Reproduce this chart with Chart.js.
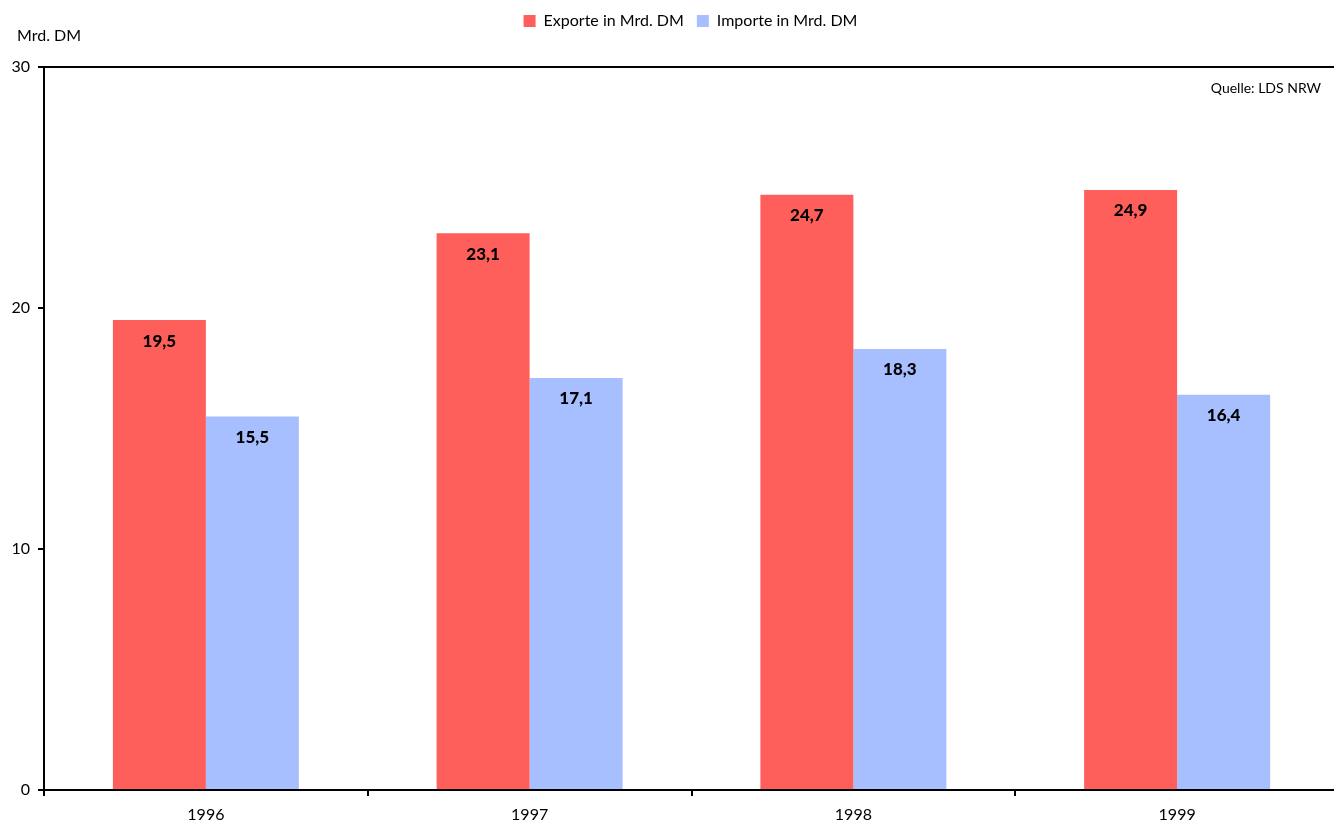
<!DOCTYPE html>
<html lang="de">
<head>
<meta charset="utf-8">
<title>Exporte und Importe in Mrd. DM</title>
<script src="https://cdn.jsdelivr.net/npm/chart.js@4/dist/chart.umd.min.js"></script>
<style>
  html, body { margin: 0; padding: 0; background: #fff; overflow: hidden; }
  #wrap { width: 1340px; height: 824px; }
</style>
</head>
<body>
<div id="wrap"><canvas id="chart" width="1340" height="824"></canvas></div>
<script>
// Außenhandel NRW 1996–1999
const years = ['1996', '1997', '1998', '1999'];
const exporte = [19.5, 23.1, 24.7, 24.9];
const importe = [15.5, 17.1, 18.3, 16.4];
const yTicks = [0, 10, 20, 30];
const seriesNames = ['Exporte in Mrd. DM', 'Importe in Mrd. DM'];
const unitLabel = 'Mrd. DM';
const sourceLabel = 'Quelle: LDS NRW';

const FONT = 'Lato, "Open Sans", sans-serif';
const RED = '#FF5F5A';
const BLUE = '#A7BEFF';

const fmt = v => v.toFixed(1).replace('.', ',');

// value labels inside the bars, plus unit and source notes
const annotations = {
  id: 'annotations',
  afterDatasetsDraw(chart) {
    const ctx = chart.ctx;
    ctx.save();
    ctx.fillStyle = '#000';
    ctx.textAlign = 'center';
    ctx.textBaseline = 'middle';
    ctx.font = '900 17px ' + FONT;
    chart.data.datasets.forEach((ds, di) => {
      const meta = chart.getDatasetMeta(di);
      meta.data.forEach((bar, i) => {
        ctx.fillText(fmt(ds.data[i]), bar.x, bar.y + 21);
      });
    });
    ctx.font = '16px ' + FONT;
    ctx.textAlign = 'left';
    ctx.fillText(unitLabel, 17, 36);
    ctx.font = '14px ' + FONT;
    ctx.textAlign = 'right';
    ctx.fillText(sourceLabel, 1321, 88);
    ctx.restore();
  }
};

// fixed legend band height above the plot, centred over the plot area
const legendBand = {
  id: 'legendBand',
  afterInit(chart) {
    const lg = chart.legend;
    if (!lg) return;
    const fit = lg.fit.bind(lg);
    lg.fit = function () { fit(); this.height = 67; };
  },
  afterLayout(chart) {
    const lg = chart.legend;
    if (!lg) return;
    const shift = 21;
    lg.left += shift;
    lg.right += shift;
  }
};

new Chart(document.getElementById('chart'), {
  type: 'bar',
  data: {
    labels: years,
    datasets: [
      { label: seriesNames[0], data: exporte, backgroundColor: RED, borderWidth: 0 },
      { label: seriesNames[1], data: importe, backgroundColor: BLUE, borderWidth: 0 }
    ]
  },
  options: {
    responsive: false,
    animation: false,
    devicePixelRatio: 1,
    layout: { padding: { left: 0, right: 1, top: 0, bottom: 0 } },
    datasets: { bar: { barPercentage: 1, categoryPercentage: 0.5745 } },
    plugins: {
      tooltip: { enabled: false },
      legend: {
        position: 'top',
        align: 'center',
        labels: {
          boxWidth: 12,
          boxHeight: 12,
          padding: 13,
          color: '#000',
          font: { family: FONT, size: 16 }
        }
      }
    },
    scales: {
      x: {
        offset: true,
        grid: {
          offset: true,
          drawOnChartArea: false,
          drawTicks: true,
          tickLength: 6,
          tickColor: '#000',
          lineWidth: 2
        },
        border: { display: true, color: '#000', width: 2 },
        ticks: { color: '#000', padding: 9, font: { family: FONT, size: 16 } },
        afterFit(scale) { scale.height = 34; }
      },
      y: {
        min: 0,
        max: 30,
        afterBuildTicks(scale) { scale.ticks = yTicks.map(v => ({ value: v })); },
        grid: {
          drawOnChartArea: true,
          color: c => (c.tick && c.tick.value === 30 ? '#000' : 'rgba(0,0,0,0)'),
          tickColor: '#000',
          lineWidth: 2,
          tickLength: 6
        },
        border: { display: true, color: '#000', width: 2 },
        ticks: { color: '#000', padding: 8, font: { family: FONT, size: 16 } },
        afterFit(scale) { scale.width = 44; }
      }
    }
  },
  plugins: [legendBand, annotations]
});
</script>
</body>
</html>
